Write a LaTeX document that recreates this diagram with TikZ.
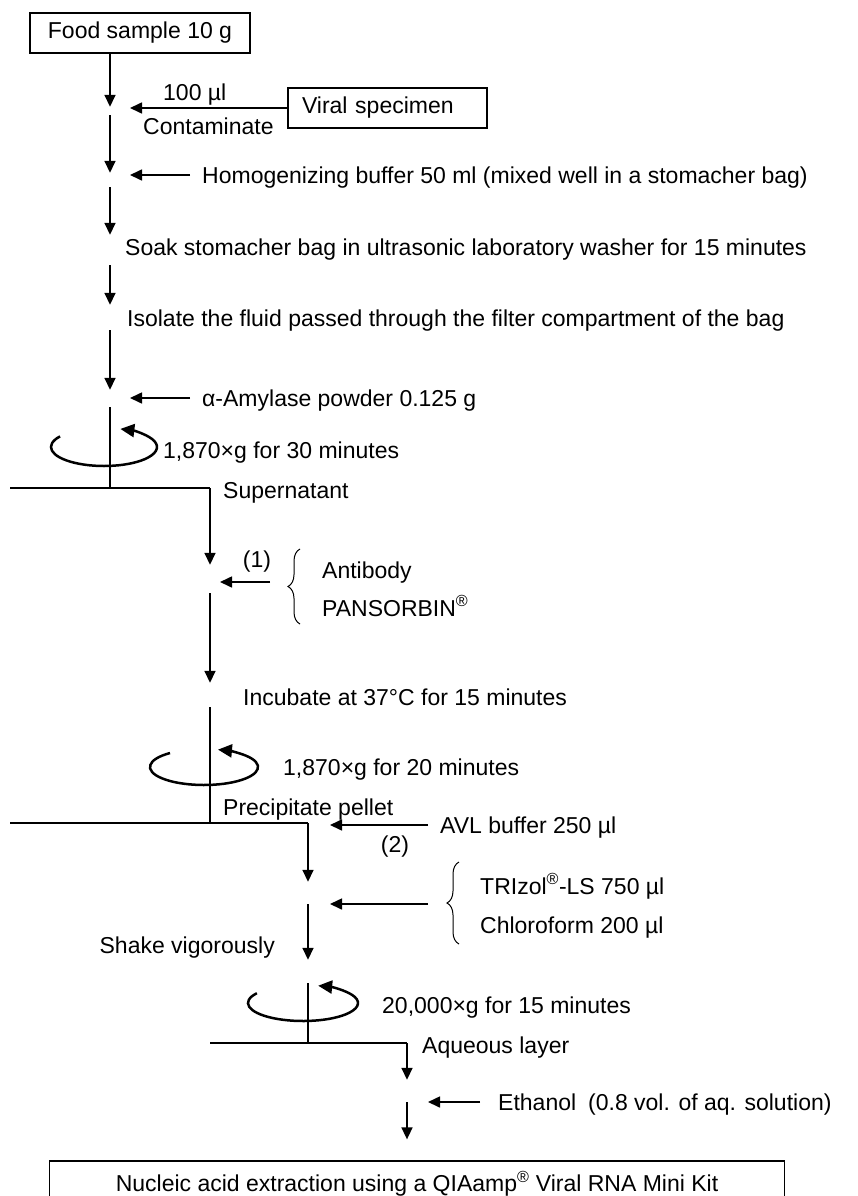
\documentclass[tikz,border=0pt]{standalone}
\usepackage{fontspec}
\setmainfont{Liberation Sans}
\usetikzlibrary{arrows.meta, positioning, calc, decorations.pathreplacing}
\tikzset{
  box/.style={rectangle, draw, line width=1.3pt, inner sep=0pt, minimum height=40pt},
  arrow/.style={-{Triangle[length=12pt, width=11pt]}, line width=1.6pt},
  line/.style={line width=1.6pt},
  spin/.style={-{Triangle[length=14pt, width=13pt]}, line width=2.5pt},
  brc/.style={decorate, decoration={brace, amplitude=12pt}, line width=1pt},
  txt/.style={anchor=west, inner sep=0pt, text height=16pt, text depth=0pt},
  feed/.style={txt, inner xsep=12pt},
  gap/.style={inner sep=0pt, minimum width=0pt}
}

\begin{document}
\begin{tikzpicture}[x=1pt, y=-1pt, font=\fontsize{23}{27}\selectfont]
  \useasboundingbox (0,0) rectangle (858,1196);

  % first column
  \node (food) [box, minimum width=220pt] at (140,33) {Food sample 10 g};
  \node (viral) [box, text width=171pt, inner xsep=14pt, align=left] at (387.5,108) {Viral specimen};
  \node (g1) [gap, minimum height=8pt] at (110,111) {};
  \node (g2) [gap, minimum height=14pt] at (110,180) {};
  \node (g3) [gap, minimum height=30pt] at (110,250) {};
  \node (g4) [gap, minimum height=25pt] at (110,317.5) {};
  \node (g5) [gap, minimum height=17pt] at (110,398.5) {};
  \coordinate (v1) at (130,108);
  \coordinate (h1) at (130,175);
  \coordinate (a1) at (130,398);
  \coordinate (c1) at (110,488);
  \coordinate (bar1L) at (10,488);
  \coordinate (bar1R) at (210,488);

  \node (vol100) [txt] at (163,93) {100 µl};
  \node (contam) [txt] at (143,127) {Contaminate};
  \node (homog) [feed] at (190,175) {Homogenizing buffer 50 ml (mixed well in a stomacher bag)};
  \node (soak) [txt] at (125,247) {Soak stomacher bag in ultrasonic laboratory washer for 15 minutes};
  \node (isolate) [txt] at (127,318) {Isolate the fluid passed through the filter compartment of the bag};
  \node (amyl) [feed] at (190,398) {α-Amylase powder 0.125 g};
  \node (spin1) [txt] at (163,450) {1,870×g for 30 minutes};
  \node (super) [txt] at (223,490) {Supernatant};

  \draw [arrow] (g1.north |- food.south) -- (g1.north);
  \draw [arrow] (viral.west) -- (v1);
  \draw [arrow] (g1.south) -- (g2.north);
  \draw [arrow] (homog.west) -- (h1);
  \draw [arrow] (g2.south) -- (g3.north);
  \draw [arrow] (g3.south) -- (g4.north);
  \draw [arrow] (g4.south) -- (g5.north);
  \draw [arrow] (amyl.west) -- (a1);
  \draw [line] (g5.south) -- (c1);
  \draw [spin] (104,447) ++(-146:53 and 19) arc[start angle=-146, end angle=-432, x radius=53, y radius=19];
  \draw [line] (bar1L) -- (bar1R);

  % second column
  \node (g6) [gap, minimum height=28pt] at (210,579) {};
  \node (g7) [gap, minimum height=24pt] at (210,695) {};
  \coordinate (ab1) at (270,582);
  \coordinate (ab2) at (220,582);
  \coordinate (c2) at (210,823);
  \coordinate (bar2L) at (10,823);
  \coordinate (bar2R) at (308,823);

  \node (n1) at (257,562) {(1)};
  \node (antib) [txt] at (322,570) {Antibody};
  \node (pans) [txt] at (322,608) {PANSORBIN\textsuperscript{®}};
  \node (incub) [txt] at (243,697) {Incubate at 37°C for 15 minutes};
  \node (spin2) [txt] at (283,767) {1,870×g for 20 minutes};
  \node (pellet) [txt] at (223,807) {Precipitate pellet};

  \draw [arrow] (bar1R) -- (g6.north);
  \draw [arrow] (ab1) -- (ab2);
  \draw [brc] (300,624) -- (300,549);
  \draw [arrow] (g6.south) -- (g7.north);
  \draw [line] (g7.south) -- (c2);
  \draw [spin] (204,767) ++(-129:54 and 18) arc[start angle=-129, end angle=-435, x radius=54, y radius=18];
  \draw [line] (bar2L) -- (bar2R);

  % third column
  \node (g8) [gap, minimum height=22pt] at (308,893) {};
  \node (g9) [gap, minimum height=23pt] at (308,971.5) {};
  \coordinate (avl1) at (330,825);
  \coordinate (tr1) at (428,904);
  \coordinate (tr2) at (330,904);
  \coordinate (c3) at (308,1043);
  \coordinate (bar3L) at (210,1043);
  \coordinate (bar3R) at (407,1043);

  \node (avl) [feed] at (428,825) {AVL buffer 250 µl};
  \node (n2) at (395,847) {(2)};
  \node (trizol) [txt] at (480,886) {TRIzol\textsuperscript{®}-LS 750 µl};
  \node (chloro) [txt] at (480,925) {Chloroform 200 µl};
  \node (shake) [txt, anchor=east] at (275,945) {Shake vigorously};
  \node (spin3) [txt] at (382,1005) {20,000×g for 15 minutes};
  \node (aqueous) [txt] at (422,1045) {Aqueous layer};

  \draw [arrow] (bar2R) -- (g8.north);
  \draw [arrow] (avl.west) -- (avl1);
  \draw [brc] (459,944) -- (459,862);
  \draw [arrow] (tr1) -- (tr2);
  \draw [arrow] (g8.south) -- (g9.north);
  \draw [line] (g9.south) -- (c3);
  \draw [spin] (303,1003) ++(-147:55 and 18) arc[start angle=-147, end angle=-434, x radius=55, y radius=18];
  \draw [line] (bar3L) -- (bar3R);

  % last step
  \node (g10) [gap, minimum height=22pt] at (407,1091) {};
  \coordinate (e1) at (428,1102);
  \node (eth) [feed, inner xsep=18pt] at (480,1102) {Ethanol};
  \node (aqvol) [txt] at (588,1102) {(0.8 vol. of aq. solution)};
  \node (kit) [box, minimum width=735pt, minimum height=46pt] at (417,1184) {Nucleic acid extraction using a QIAamp\textsuperscript{®} Viral RNA Mini Kit};

  \draw [arrow] (bar3R) -- (g10.north);
  \draw [arrow] (eth.west) -- (e1);
  \draw [arrow, shorten >=21pt] (g10.south) -- (kit.north -| g10.south);
\end{tikzpicture}
\end{document}
